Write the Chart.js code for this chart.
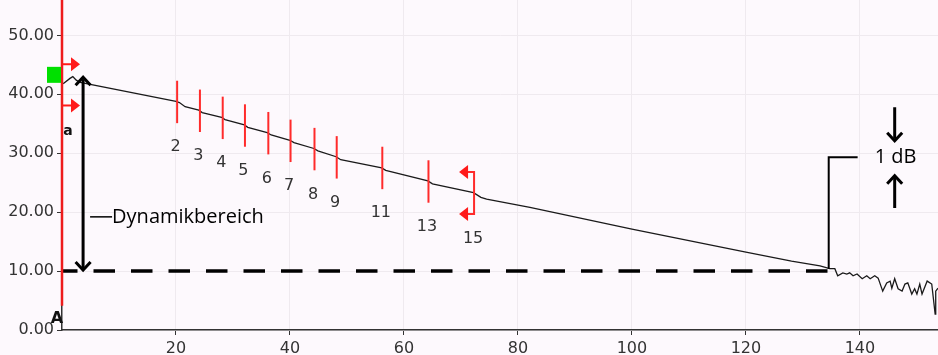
<!DOCTYPE html>
<html>
<head>
<meta charset="utf-8">
<script src="https://cdn.jsdelivr.net/npm/chart.js@4.4.1/dist/chart.umd.min.js"></script>
<style>
  body { margin: 0; background: #fdf9fd; }
  #wrap { width: 938px; height: 355px; }
</style>
</head>
<body>
<div id="wrap"><canvas id="otdr"></canvas></div>
<script>
// backscatter trace, distance vs level in dB
const traceKm = [0.2, 1.4, 1.9, 2.5, 3.2, 20.0, 20.6, 21.6, 24.0, 24.6, 28.0, 28.6, 32.0, 32.6,
  36.0, 36.7, 40.0, 40.7, 44.2, 44.9, 48.1, 48.9, 56.1, 56.8, 64.2, 65.0, 72.2, 73.5, 74.5,
  82.1, 100, 120, 128, 133.0, 134.7, 135.6, 136.1, 137.0, 137.7, 138.2, 138.8, 139.5, 140.4,
  141.2, 141.8, 142.6, 143.2, 144.0, 144.7, 145.3, 145.6, 146.1, 146.7, 147.4, 147.9, 148.4,
  149.1, 149.6, 150.0, 150.5, 150.9, 151.8, 152.6, 153.2, 153.3, 153.7];
const traceDb = [41.8, 42.7, 43.0, 42.4, 42.0, 38.8, 38.6, 37.9, 37.3, 36.9, 36.1, 35.7, 34.8, 34.4,
  33.5, 33.1, 32.2, 31.8, 30.8, 30.4, 29.4, 28.9, 27.5, 27.1, 25.3, 24.8, 23.3, 22.5, 22.2,
  20.8, 17.1, 13.2, 11.7, 10.9, 10.4, 10.4, 9.2, 9.7, 9.5, 9.7, 9.2, 9.5, 8.7,
  9.2, 8.7, 9.2, 8.8, 6.6, 8.0, 8.3, 7.1, 8.7, 7.0, 6.6, 7.8, 8.0,
  6.1, 7.0, 6.1, 7.8, 6.1, 8.3, 7.8, 2.7, 6.6, 7.1];

// events along the fibre
const eventKm = [20.2, 24.2, 28.2, 32.1, 36.2, 40.1, 44.3, 48.2, 56.2, 64.3];
const eventDb = [38.7, 37.2, 36.0, 34.7, 33.4, 32.1, 30.7, 29.3, 27.5, 25.2];
const eventNo = ['2', '3', '4', '5', '6', '7', '8', '9', '11', '13'];
const endKm = 72.3, endDb = 23.2, endNo = '15';

const launchDb = 43.3;      // green launch level marker
const dynTopDb = 42.9;      // top of dynamic range arrow
const floorDb = 10;         // noise floor
const floorEndKm = 134.7;
const dynArrowKm = 3.7;

const xTicks = [20, 40, 60, 80, 100, 120, 140];
const yTicks = [0, 10, 20, 30, 40, 50];

const trace = traceKm.map((km, i) => ({x: km, y: traceDb[i]}));

function arrowHead(ctx, x, y, dx, dy, size, filled) {
  // chevron / filled head with tip at (x, y) pointing along (dx, dy)
  const ang = Math.atan2(dy, dx);
  const a1 = ang + Math.PI - 0.75, a2 = ang + Math.PI + 0.75;
  ctx.beginPath();
  ctx.moveTo(x + size * Math.cos(a1), y + size * Math.sin(a1));
  ctx.lineTo(x, y);
  ctx.lineTo(x + size * Math.cos(a2), y + size * Math.sin(a2));
  if (filled) { ctx.closePath(); ctx.fill(); } else ctx.stroke();
}

function redHead(ctx, tipX, y, dir) {
  ctx.beginPath();
  ctx.moveTo(tipX, y);
  ctx.lineTo(tipX - dir * 9, y - 7);
  ctx.lineTo(tipX - dir * 9, y + 7);
  ctx.closePath();
  ctx.fill();
}

const annotate = {
  id: 'annotate',
  afterDatasetsDraw(chart) {
    const {ctx, scales: {x, y}} = chart;
    const px = v => x.getPixelForValue(v), py = v => y.getPixelForValue(v);
    ctx.save();

    // start marker
    ctx.strokeStyle = '#ee1c1c';
    ctx.lineWidth = 2.5;
    ctx.beginPath();
    ctx.moveTo(px(0), chart.chartArea.top);
    ctx.lineTo(px(0), py(4.1));
    ctx.stroke();

    ctx.fillStyle = '#00e000';
    ctx.fillRect(px(0) - 15, py(launchDb) - 8, 14, 16);

    ctx.fillStyle = '#ff1a1a';
    ctx.strokeStyle = '#ff1a1a';
    ctx.lineWidth = 2;
    [45.1, 38.1].forEach(v => {
      ctx.beginPath();
      ctx.moveTo(px(0), py(v));
      ctx.lineTo(px(0) + 10, py(v));
      ctx.stroke();
      redHead(ctx, px(0) + 18, py(v), 1);
    });

    // event markers and numbers
    ctx.strokeStyle = '#ff2b2b';
    ctx.lineWidth = 2;
    eventKm.forEach((km, i) => {
      ctx.beginPath();
      ctx.moveTo(px(km), py(eventDb[i] + 3.6));
      ctx.lineTo(px(km), py(eventDb[i] - 3.6));
      ctx.stroke();
    });

    // end of fibre bracket
    const ex = px(endKm), eTop = py(endDb + 3.6), eBot = py(endDb - 3.5);
    ctx.beginPath();
    ctx.moveTo(px(endKm) - 8, eTop);
    ctx.lineTo(ex, eTop);
    ctx.lineTo(ex, eBot);
    ctx.lineTo(px(endKm) - 8, eBot);
    ctx.stroke();
    ctx.fillStyle = '#ff1a1a';
    redHead(ctx, ex - 15, eTop, -1);
    redHead(ctx, ex - 15, eBot, -1);

    ctx.fillStyle = '#333';
    ctx.font = '16px "DejaVu Sans"';
    ctx.textAlign = 'center';
    ctx.textBaseline = 'middle';
    eventKm.forEach((km, i) => ctx.fillText(eventNo[i], px(km) - 1.5, py(eventDb[i] - 7.7)));
    ctx.fillText(endNo, ex - 1, py(endDb - 7.7));

    ctx.font = 'bold 14px "DejaVu Sans"';
    ctx.fillStyle = '#111';
    ctx.fillText('a', px(0) + 6, py(33.7));
    ctx.font = 'bold 16px "DejaVu Sans"';
    ctx.fillText('A', px(0) - 5, py(1.9));

    // dynamic range
    ctx.strokeStyle = '#000';
    ctx.fillStyle = '#000';
    ctx.lineWidth = 3;
    const dx = px(dynArrowKm);
    ctx.beginPath();
    ctx.moveTo(dx, py(dynTopDb) + 2);
    ctx.lineTo(dx, py(floorDb) - 2);
    ctx.stroke();
    arrowHead(ctx, dx, py(dynTopDb), 0, -1, 11, false);
    arrowHead(ctx, dx, py(floorDb) - 1, 0, 1, 11, false);

    ctx.lineWidth = 1.5;
    ctx.beginPath();
    ctx.moveTo(dx + 7, py(19.2));
    ctx.lineTo(dx + 29, py(19.2));
    ctx.stroke();
    ctx.font = '20px "Open Sans"';
    ctx.textAlign = 'left';
    ctx.fillText('Dynamikbereich', dx + 29, py(19.2));

    // 1 dB leader
    ctx.lineWidth = 2;
    ctx.beginPath();
    ctx.moveTo(px(floorEndKm) - 1, py(floorDb) - 2);
    ctx.lineTo(px(floorEndKm) - 1, py(29.3));
    ctx.lineTo(px(139.6), py(29.3));
    ctx.stroke();
    ctx.fillText('1 dB', px(142.6), py(29.3));

    ctx.lineWidth = 3;
    const ax = px(146.1);
    ctx.beginPath();
    ctx.moveTo(ax, py(37.8));
    ctx.lineTo(ax, py(32.1) - 2);
    ctx.stroke();
    arrowHead(ctx, ax, py(32.1), 0, 1, 11, false);
    ctx.beginPath();
    ctx.moveTo(ax, py(26.2) + 2);
    ctx.lineTo(ax, py(20.7));
    ctx.stroke();
    arrowHead(ctx, ax, py(26.2), 0, -1, 11, false);

    ctx.restore();
  }
};

new Chart(document.getElementById('otdr'), {
  type: 'scatter',
  data: {
    datasets: [{
      data: [{x: 0, y: floorDb}, {x: floorEndKm, y: floorDb}],
      showLine: true,
      borderColor: '#000',
      borderWidth: 3.5,
      borderDash: [21.5, 16],
      borderDashOffset: 6,
      pointRadius: 0
    }, {
      data: trace,
      showLine: true,
      borderColor: '#1a1a1a',
      borderWidth: 1.3,
      pointRadius: 0,
      tension: 0
    }]
  },
  options: {
    responsive: true,
    maintainAspectRatio: false,
    animation: false,
    layout: {padding: 0},
    plugins: {legend: {display: false}, tooltip: {enabled: false}},
    scales: {
      x: {
        type: 'linear',
        min: 0,
        max: 153.7,
        afterBuildTicks: s => { s.ticks = xTicks.map(v => ({value: v})); },
        afterFit: s => { s.height = 25; s.paddingLeft = 0; s.paddingRight = 0; },
        grid: {color: '#efeaef', tickColor: '#333', tickLength: 5},
        border: {color: '#333', width: 1.5},
        ticks: {color: '#333', font: {family: 'DejaVu Sans', size: 16}, padding: 4, maxRotation: 0}
      },
      y: {
        min: 0,
        max: 56,
        afterBuildTicks: s => { s.ticks = yTicks.map(v => ({value: v})); },
        afterFit: s => { s.width = 62; s.paddingTop = 0; s.paddingBottom = 0; },
        grid: {color: '#efeaef', tickColor: '#333', tickLength: 5},
        border: {color: '#333', width: 1.5},
        ticks: {color: '#333', font: {family: 'DejaVu Sans', size: 16}, padding: 3,
          callback: v => v.toFixed(2)}
      }
    }
  },
  plugins: [annotate]
});
</script>
</body>
</html>
